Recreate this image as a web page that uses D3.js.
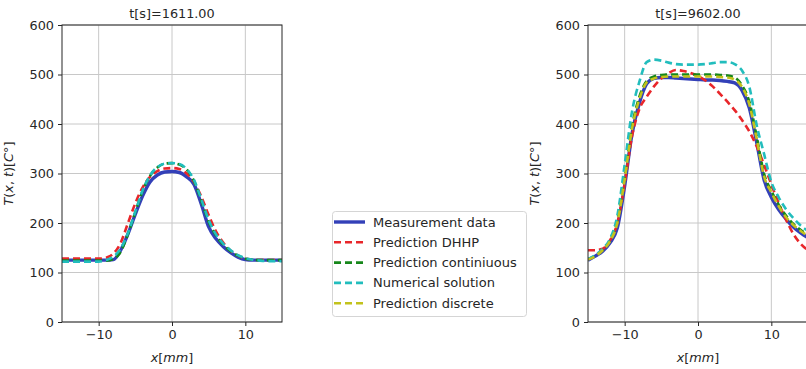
<!DOCTYPE html>
<html>
<head>
<meta charset="utf-8">
<script src="https://cdn.jsdelivr.net/npm/d3@7"></script>
<style>
  body { margin: 0; background: #fff; }
  text { font-family: "DejaVu Sans", sans-serif; fill: #262626; }
</style>
</head>
<body>
<script>
// sample positions along x [mm]
const xPos = [-15,-14,-13,-12,-11,-10,-9,-8,-7,-6,-5,-4,-3,-2,-1,0,1,2,3,4,5,6,7,8,9,10,11,12,13,14,15];

// t = 1611 s
const early_measured   = [125,125,125,125,125,125,125,126,145,178,218,255,283,297,303,304,302,293,278,238,192,168,152,140,131,126,125,125,125,125,125];
const early_dhhp       = [128,128,128,128,128,128,130,138,160,200,240,272,293,305,310,311,309,300,283,253,216,183,160,144,134,128,126,125,125,125,125];
const early_continuous = [124,124,124,124,124,124,124,127,142,178,222,265,295,312,320,321,318,308,285,245,203,175,156,143,134,128,126,125,125,125,125];
const early_numerical  = [122,122,122,122,122,122,125,132,148,180,223,266,296,313,320,321,319,309,287,248,206,177,158,145,135,129,126,124,123,123,123];

// t = 9602 s
const late_measured   = [125,133,143,160,190,275,380,442,481,492,494,494,493,492,491,490,489,489,488,486,483,468,432,363,288,252,227,208,192,180,170];
const late_dhhp       = [145,145,148,165,200,280,375,430,455,476,492,503,509,507,503,497,488,476,461,445,428,408,385,355,318,278,240,207,178,158,145];
const late_continuous = [127,134,146,165,205,295,395,455,487,496,499,500,500,500,500,500,500,500,499,498,494,478,445,375,300,265,237,215,198,186,176];
const late_numerical  = [127,135,148,168,215,318,425,485,525,530,528,524,521,520,520,520,521,523,525,525,521,508,475,398,340,283,252,228,210,195,184];
const late_discrete   = [126,133,145,163,200,288,390,450,484,492,495,496,496,496,496,496,496,496,495,494,490,475,440,370,295,262,234,212,196,184,174];

const xTicks = [-10, 0, 10];
const yTicks = [0, 100, 200, 300, 400, 500, 600];

const seriesNames = ["Measurement data", "Prediction DHHP", "Prediction continiuous", "Numerical solution", "Prediction discrete"];
const seriesColors = ["#3340b8", "#e8262a", "#16871a", "#22bdbd", "#c2c21c"];

const W = 806, H = 369;
const axTop = 25, axBottom = 322, axW = 220;
const fs = "12.8px";

const svg = d3.select("body").append("svg")
  .attr("width", W).attr("height", H);

function drawPanel(left, title, data, id) {
  const x = d3.scaleLinear().domain([-15, 15]).range([left, left + axW]);
  const y = d3.scaleLinear().domain([0, 600]).range([axBottom, axTop]);
  const g = svg.append("g");

  g.append("clipPath").attr("id", id)
    .append("rect").attr("x", left).attr("y", axTop)
    .attr("width", axW).attr("height", axBottom - axTop);

  // grid
  g.selectAll(".gx").data(xTicks).enter().append("line")
    .attr("x1", d => x(d)).attr("x2", d => x(d))
    .attr("y1", axTop).attr("y2", axBottom)
    .attr("stroke", "#c8c8c8").attr("stroke-width", 1);
  g.selectAll(".gy").data(yTicks).enter().append("line")
    .attr("x1", left).attr("x2", left + axW)
    .attr("y1", d => y(d)).attr("y2", d => y(d))
    .attr("stroke", "#c8c8c8").attr("stroke-width", 1);

  // curves
  const line = d3.line()
    .x((d, i) => x(xPos[i]))
    .y(d => y(d))
    .curve(d3.curveMonotoneX);

  data.forEach(s => {
    g.append("path")
      .attr("clip-path", `url(#${id})`)
      .attr("d", line(s.values))
      .attr("fill", "none")
      .attr("stroke", seriesColors[s.k])
      .attr("stroke-width", s.k === 0 ? 3.4 : 2.6)
      .attr("stroke-dasharray", s.k === 0 ? null : "7,4");
  });

  // axes
  const ax = g.append("g").attr("transform", `translate(0,${axBottom})`)
    .call(d3.axisBottom(x).tickValues(xTicks).tickSize(4).tickPadding(4)
      .tickFormat(d => d < 0 ? "\u2212" + Math.abs(d) : d));
  const ay = g.append("g").attr("transform", `translate(${left},0)`)
    .call(d3.axisLeft(y).tickValues(yTicks).tickSize(4).tickPadding(4));
  [ax, ay].forEach(a => {
    a.selectAll("text").style("font-size", fs).attr("fill", "#262626")
      .style("font-family", "DejaVu Sans, sans-serif");
    a.selectAll("line").attr("stroke", "#262626");
    a.select(".domain").remove();
  });

  // spines
  g.append("rect").attr("x", left).attr("y", axTop)
    .attr("width", axW).attr("height", axBottom - axTop)
    .attr("fill", "none").attr("stroke", "#262626").attr("stroke-width", 1);

  g.append("text").attr("x", left + axW / 2).attr("y", 18)
    .attr("text-anchor", "middle").style("font-size", fs).text(title);

  const xl = g.append("text").attr("x", left + axW / 2).attr("y", 362)
    .attr("text-anchor", "middle").style("font-size", fs);
  xl.append("tspan").style("font-style", "italic").text("x");
  xl.append("tspan").text("[");
  xl.append("tspan").style("font-style", "italic").text("mm");
  xl.append("tspan").text("]");

  const yl = g.append("text")
    .attr("transform", `translate(${left - 49},${(axTop + axBottom) / 2}) rotate(-90)`)
    .attr("text-anchor", "middle").style("font-size", fs);
  yl.append("tspan").style("font-style", "italic").text("T");
  yl.append("tspan").text("(");
  yl.append("tspan").style("font-style", "italic").text("x");
  yl.append("tspan").text(", ");
  yl.append("tspan").style("font-style", "italic").text("t");
  yl.append("tspan").text(")[");
  yl.append("tspan").style("font-style", "italic").text("C");
  yl.append("tspan").text("°]");
}

drawPanel(62, "t[s]=1611.00", [
  { k: 0, values: early_measured },
  { k: 1, values: early_dhhp },
  { k: 2, values: early_continuous },
  { k: 3, values: early_numerical }
], "clipA");

drawPanel(588, "t[s]=9602.00", [
  { k: 0, values: late_measured },
  { k: 1, values: late_dhhp },
  { k: 2, values: late_continuous },
  { k: 3, values: late_numerical },
  { k: 4, values: late_discrete }
], "clipB");

// legend
const lg = svg.append("g");
lg.append("rect").attr("x", 332.5).attr("y", 211.5)
  .attr("width", 194).attr("height", 105).attr("rx", 3)
  .attr("fill", "#fff").attr("stroke", "#d5d5d5");
seriesNames.forEach((name, i) => {
  const cy = 222 + i * 20.3;
  lg.append("line").attr("x1", 334).attr("x2", 365)
    .attr("y1", cy).attr("y2", cy)
    .attr("stroke", seriesColors[i])
    .attr("stroke-width", i === 0 ? 3.4 : 2.6)
    .attr("stroke-dasharray", i === 0 ? null : "7,4");
  lg.append("text").attr("x", 373).attr("y", cy + 4.5)
    .style("font-size", "13px").text(name);
});
</script>
</body>
</html>
